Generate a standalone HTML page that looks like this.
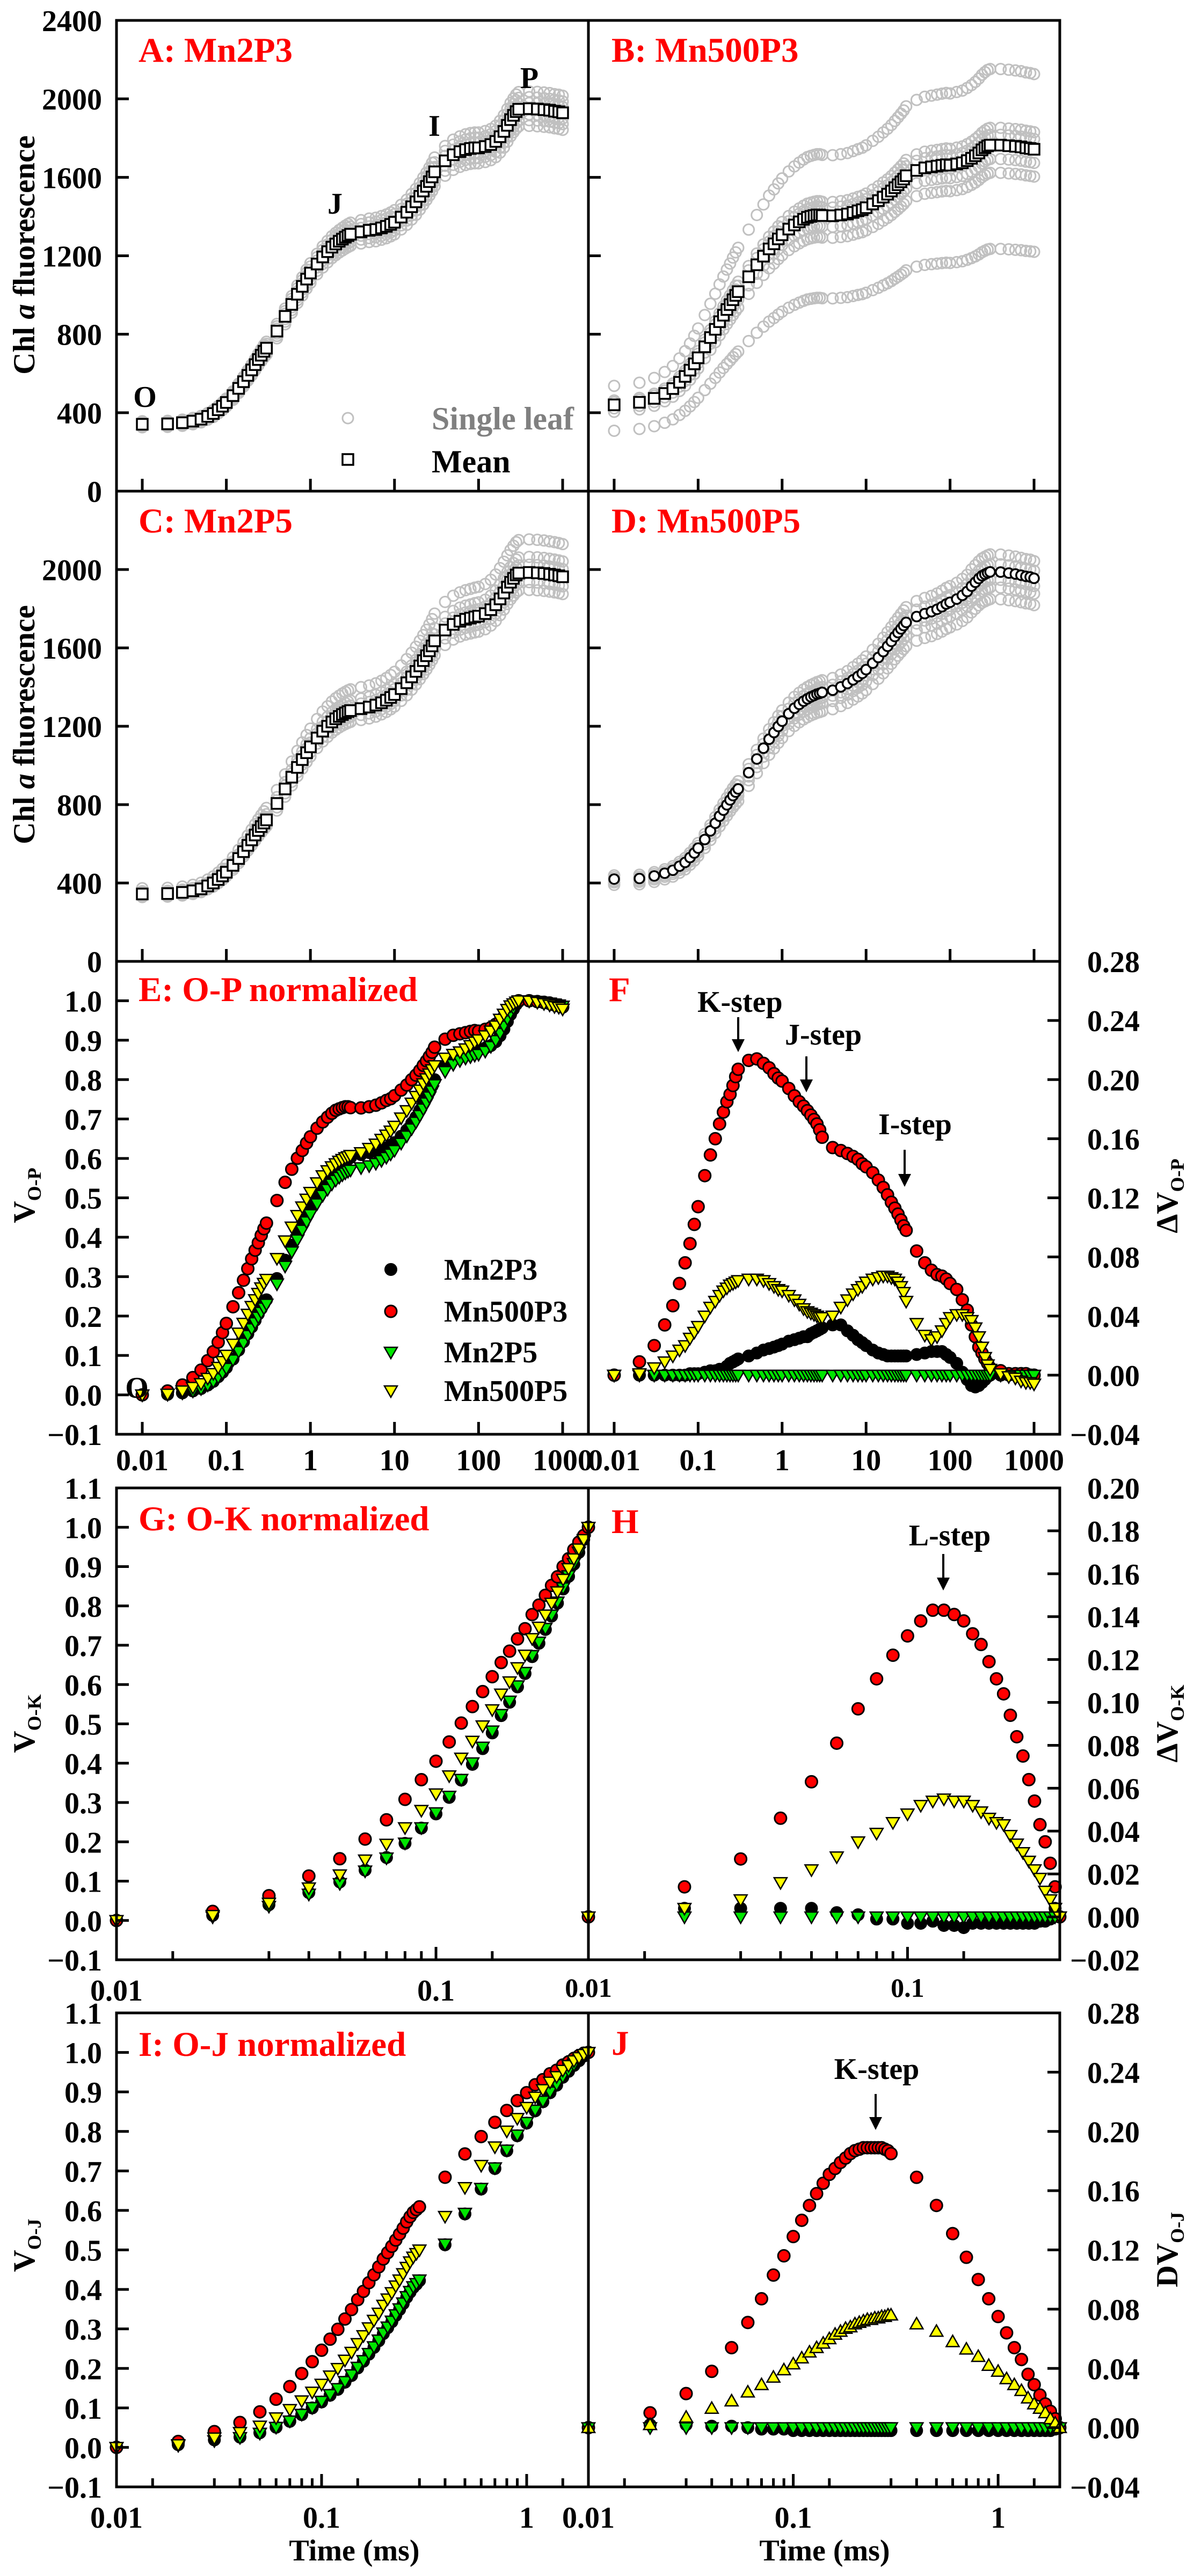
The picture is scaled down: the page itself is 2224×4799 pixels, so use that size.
<!DOCTYPE html>
<html><head><meta charset="utf-8">
<style>
body{margin:0;background:#fff}
svg{display:block}
text{font-family:"Liberation Serif","DejaVu Serif",serif;font-weight:bold}
</style></head>
<body>
<svg id="fig" width="2224" height="4799" viewBox="0 0 2224 4799" xmlns="http://www.w3.org/2000/svg"></svg>
<script>
// ---------- DATA ----------
const T=[0.01,0.02,0.03,0.04,0.05,0.06,0.07,0.08,0.09,0.1,0.12,0.14,0.16,0.18,0.2,0.22,0.24,0.26,0.28,0.3,
0.4,0.5,0.6,0.7,0.8,0.9,1,1.2,1.4,1.6,1.8,2,2.2,2.4,2.6,2.8,3,
4,5,6,7,8,9,10,12,14,16,18,20,22,24,26,28,30,
40,50,60,70,80,90,100,120,140,160,180,200,220,240,260,280,300,
400,500,600,700,800,900,1000];
const meanA=[341,343,349,357,367,381,396,415,433,452,487,524,558,590,618,645,671,693,713,729,
816,891,952,1004,1044,1081,1112,1158,1194,1221,1244,1260,1274,1285,1295,1303,1310,
1322,1330,1334,1342,1350,1360,1371,1397,1422,1450,1475,1503,1530,1554,1578,1602,1628,
1684,1715,1731,1741,1747,1750,1750,1757,1767,1783,1807,1834,1865,1894,1916,1935,1947,
1950,1948,1945,1942,1937,1934,1929];
const meanB=[440,453,473,498,523,555,585,617,649,680,736,783,825,864,897,926,951,976,998,1017,
1093,1154,1198,1235,1261,1286,1307,1336,1357,1373,1386,1396,1401,1405,1408,1408,1405,
1404,1408,1413,1421,1429,1435,1445,1464,1481,1499,1514,1530,1547,1562,1577,1591,1608,
1635,1648,1653,1657,1661,1664,1662,1668,1674,1685,1697,1710,1724,1740,1751,1760,1764,
1764,1761,1758,1755,1750,1747,1743];
const meanC=[344,346,352,360,370,385,400,418,436,455,490,525,560,592,620,645,668,688,706,722,
806,880,940,990,1030,1065,1095,1140,1175,1200,1222,1238,1250,1260,1268,1275,1280,
1290,1298,1308,1320,1333,1347,1362,1392,1422,1452,1480,1508,1535,1560,1585,1610,1636,
1691,1720,1736,1746,1752,1758,1762,1775,1795,1820,1850,1880,1910,1935,1955,1972,1982,
1985,1983,1980,1976,1972,1968,1963];
const meanD=[420,423,436,450,465,486,505,530,553,578,622,666,705,741,772,799,824,846,864,880,
963,1033,1088,1134,1168,1199,1226,1264,1292,1312,1328,1340,1350,1357,1364,1368,1373,
1384,1401,1418,1437,1454,1470,1489,1522,1551,1581,1608,1633,1658,1678,1697,1714,1730,
1760,1775,1785,1797,1810,1824,1833,1849,1868,1888,1915,1935,1954,1968,1976,1983,1988,
1987,1982,1977,1971,1965,1962,1955];
const leafA=[0.955,0.97,0.985,1.015,1.03,1.045];
const leafB=[0.70,0.92,0.96,1.03,1.05,1.22];
const leafC=[0.955,0.975,1.02,1.04,1.085];
const leafD=[0.93,0.96,0.98,1.02,1.045];
const dvBlack=[0,0,0,0,0,0,0,.001,.001,.001,.002,.003,.003,.004,.004,.006,.008,.009,.010,.011,
.013,.015,.017,.018,.019,.020,.021,.023,.024,.025,.026,.026,.028,.029,.030,.031,.032,
.034,.034,.030,.027,.024,.022,.020,.017,.015,.014,.013,.013,.013,.013,.013,.013,.013,
.014,.015,.016,.016,.016,.014,.012,.008,.002,-.003,-.007,-.008,-.007,-.005,-.003,-.001,0,
0,0,0,0,0,0,0];
const dvRed=[0,.009,.020,.034,.047,.062,.076,.089,.102,.114,.135,.149,.160,.170,.178,.185,.190,.196,.202,.207,
.213,.214,.211,.208,.204,.201,.199,.194,.189,.185,.182,.179,.176,.173,.170,.166,.161,
.154,.152,.150,.148,.146,.143,.141,.137,.132,.127,.122,.117,.113,.109,.105,.101,.098,
.084,.076,.071,.068,.067,.065,.062,.058,.051,.044,.034,.026,.019,.015,.011,.008,.005,
.003,.001,.001,.001,.001,0,0];
const dvGreen=[0,0,0,0,0,0,0,0,0,0,0,0,0,0,0,0,0,0,0,0,
0,0,0,0,0,0,0,0,0,0,0,0,0,0,0,0,0,
0,0,0,0,0,0,0,0,0,0,0,0,0,0,0,0,0,
0,0,0,0,0,0,0,0,0,0,0,0,0,0,0,0,0,
0,0,0,0,0,0,0];
const dvYellow=[0,.001,.005,.009,.013,.017,.020,.025,.029,.033,.040,.046,.050,.054,.057,.059,.061,.062,.063,.064,
.065,.065,.064,.062,.060,.058,.057,.054,.051,.048,.045,.043,.042,.041,.040,.039,.039,
.040,.046,.051,.055,.058,.060,.063,.065,.066,.067,.067,.066,.065,.063,.060,.056,.050,
.035,.027,.024,.026,.030,.035,.039,.041,.041,.039,.037,.032,.026,.019,.012,.007,.004,
.001,-.001,-.002,-.004,-.005,-.005,-.006];
// O-K panels
const tK=[0.01,0.02,0.03,0.04,0.05,0.06,0.07,0.08,0.09,0.1,0.11,0.12,0.13,0.14,0.15,0.16,0.17,0.18,0.19,0.2,0.21,0.22,0.23,0.24,0.25,0.26,0.27,0.28,0.29,0.3];
const gGreen=[0,.009,.036,.067,.094,.126,.159,.197,.236,.274,.316,.359,.401,.441,.482,.524,.558,.597,.631,.674,.708,.743,.777,.810,.846,.877,.908,.937,.965,1.0];
const hRed=[0,.014,.027,.046,.063,.081,.097,.111,.122,.131,.138,.143,.143,.141,.138,.132,.127,.119,.111,.104,.094,.084,.075,.064,.054,.043,.035,.025,.014,0];
const hYellow=[0,.004,.008,.016,.022,.028,.035,.039,.044,.048,.052,.054,.055,.054,.054,.052,.049,.046,.044,.043,.038,.034,.030,.026,.022,.018,.012,.008,.004,0];
const hBlack=[0,.004,.004,.004,.004,.002,.001,-.001,-.001,-.003,-.003,-.002,-.004,-.004,-.005,-.003,-.003,-.003,-.003,-.003,-.003,-.003,-.003,-.003,-.003,-.002,-.002,-.001,.004,0];
const hGreen=[0,0,0,0,0,0,0,0,0,0,0,0,0,0,0,0,0,0,0,0,0,0,0,0,0,0,0,0,0,0];
// O-J panels
const tJ=[0.01,0.02,0.03,0.04,0.05,0.06,0.07,0.08,0.09,0.1,0.11,0.12,0.13,0.14,0.15,0.16,0.17,0.18,0.19,0.2,0.21,0.22,0.23,0.24,0.25,0.26,0.27,0.28,0.29,0.3,
0.4,0.5,0.6,0.7,0.8,0.9,1.0,1.1,1.2,1.3,1.4,1.5,1.6,1.7,1.8,1.9,2.0];
const iGreen=[0,.005,.017,.025,.036,.051,.067,.084,.101,.117,.134,.149,.167,.184,.203,.220,.238,.255,.272,.290,.305,.320,.336,.351,.366,.382,.395,.407,.415,.424,
.515,.593,.656,.708,.753,.791,.823,.854,.877,.900,.919,.939,.954,.969,.981,.992,1.0];
const jRed=[0,.010,.023,.038,.054,.071,.087,.103,.116,.129,.140,.150,.158,.165,.171,.175,.179,.182,.185,.187,.188,.189,.189,.189,.189,.189,.189,.188,.187,.185,
.169,.150,.131,.115,.100,.087,.075,.064,.054,.046,.036,.029,.022,.016,.011,.006,0];
const jYellow=[0,.002,.007,.013,.018,.024,.029,.034,.039,.043,.047,.051,.054,.057,.060,.063,.065,.067,.068,.070,.071,.072,.073,.073,.074,.074,.075,.075,.076,.076,
.070,.065,.058,.053,.048,.042,.038,.033,.029,.025,.020,.016,.013,.010,.006,.003,0];
const jBlack=[0,.002,.002,.001,.001,0,-.001,-.001,-.001,-.002,-.002,-.002,-.002,-.002,-.002,-.002,-.002,-.002,-.002,-.002,-.002,-.002,-.002,-.002,-.002,-.002,-.002,-.002,-.002,-.002,
-.002,-.002,-.002,-.002,-.002,-.002,-.002,-.002,-.002,-.002,-.002,-.002,-.002,-.002,-.002,-.001,0];
const jGreen=[0,0,0,0,0,0,0,0,0,0,0,0,0,0,0,0,0,0,0,0,0,0,0,0,0,0,0,0,0,0,
0,0,0,0,0,0,0,0,0,0,0,0,0,0,0,0,0];

// ---------- HELPERS ----------
const NS="http://www.w3.org/2000/svg";
const svg=document.getElementById('fig');
function mk(tag,attrs,name,parent){
  const el=document.createElementNS(NS,tag);
  for(const k in attrs) el.setAttribute(k,attrs[k]);
  
  
  (parent||svg).appendChild(el);
  return el;
}
function text(x,y,s,o,name){
  o=o||{};
  const el=mk('text',{x:x,y:y,'font-size':o.size||56,'text-anchor':o.anchor||'start',fill:o.fill||'#000'},name);
  if(o.italic) el.setAttribute('font-style','italic');
  el.textContent=s;
  return el;
}
function subTitle(x,y,main,sub,name){
  const el=mk('text',{transform:'translate('+x+','+y+') rotate(-90)','text-anchor':'middle','font-size':57},name);
  const a=mk('tspan',{},name+'-main',el); a.textContent=main;
  const b=mk('tspan',{'font-size':36,dy:12},name+'-subscript',el); b.textContent=sub;
  return el;
}
const Lx=(p0,p1,lo,hi)=>t=>p0+(Math.log10(t)-Math.log10(lo))/(Math.log10(hi)-Math.log10(lo))*(p1-p0);
const Ly=(p0,p1,lo,hi)=>v=>p1-(v-lo)/(hi-lo)*(p1-p0);
const L0=Math.pow(10,-2.3065), L1=Math.pow(10,3.3065);
const xL=Lx(217,1096,L0,L1), xR=Lx(1096,1974,L0,L1);
const xGL=Lx(217,1096,0.01,0.3), xGR=Lx(1096,1974,0.01,0.3);
const xIL=Lx(217,1096,0.01,2), xIR=Lx(1096,1974,0.01,2);
const yA=Ly(38,915,0,2400), yC=Ly(915,1791,0,2400);
const yE=Ly(1791,2672,-0.1,1.1), yF=Ly(1791,2672,-0.04,0.28);
const yG=Ly(2772,3651,-0.1,1.1), yH=Ly(2772,3651,-0.02,0.20);
const yI=Ly(3750,4633,-0.1,1.1), yJ=Ly(3750,4633,-0.04,0.28);

function marker(kind,cx,cy,name){
  if(kind==='gray') return mk('circle',{cx:cx,cy:cy,r:10,fill:'none',stroke:'#c0c0c0','stroke-width':3},name);
  if(kind==='sq') return mk('rect',{x:cx-10,y:cy-10,width:20,height:20,fill:'#fff',stroke:'#000','stroke-width':3.5},name);
  if(kind==='oc') return mk('circle',{cx:cx,cy:cy,r:9,fill:'#fff',stroke:'#000','stroke-width':3.5},name);
  if(kind==='red') return mk('circle',{cx:cx,cy:cy,r:11,fill:'#ff0000',stroke:'#000','stroke-width':3},name);
  if(kind==='black') return mk('circle',{cx:cx,cy:cy,r:11,fill:'#000',stroke:'#000','stroke-width':2},name);
  const up=(kind==='yellowUp');
  const fill=(kind==='green')?'#00e600':'#ffff00';
  const pts=up?[[cx-12,cy+9],[cx+12,cy+9],[cx,cy-12]]:[[cx-12,cy-9],[cx+12,cy-9],[cx,cy+12]];
  return mk('polygon',{points:pts.map(p=>p.join(',')).join(' '),fill:fill,stroke:'#000','stroke-width':2.5},name);
}
function series(ts,vals,xs,ys,kind,name){
  for(let i=0;i<ts.length;i++) marker(kind,xs(ts[i]),ys(vals[i]),name);
}
function norm(arr){const f0=arr[0],fm=Math.max.apply(null,arr);return arr.map(v=>(v-f0)/(fm-f0));}
function addArr(a,b){return a.map((v,i)=>v+b[i]);}

// ---------- PANELS A-D ----------
function rawPanel(mean,leaves,xs,ys,meanKind,tag){
  for(let j=0;j<leaves.length;j++){
    for(let i=0;i<T.length;i++) marker('gray',xs(T[i]),ys(mean[i]*leaves[j]),tag+'-single-leaf-point');
  }
  series(T,mean,xs,ys,meanKind,tag+'-mean-point');
}
rawPanel(meanA,leafA,xL,yA,'sq','panel-a');
rawPanel(meanB,leafB,xR,yA,'sq','panel-b');
rawPanel(meanC,leafC,xL,yC,'sq','panel-c');
rawPanel(meanD,leafD,xR,yC,'oc','panel-d');

// ---------- PANELS E/F ----------
const vA=norm(meanA), vB=norm(meanB), vC=norm(meanC), vD=norm(meanD);
series(T,vA,xL,yE,'black','e-mn2p3-point');
series(T,vB,xL,yE,'red','e-mn500p3-point');
series(T,vC,xL,yE,'green','e-mn2p5-point');
series(T,vD,xL,yE,'yellow','e-mn500p5-point');
series(T,dvBlack,xR,yF,'black','f-mn2p3-point');
series(T,dvRed,xR,yF,'red','f-mn500p3-point');
series(T,dvGreen,xR,yF,'green','f-mn2p5-point');
series(T,dvYellow,xR,yF,'yellow','f-mn500p5-point');

// ---------- PANELS G/H ----------
series(tK,addArr(gGreen,hBlack),xGL,yG,'black','g-mn2p3-point');
series(tK,addArr(gGreen,hRed),xGL,yG,'red','g-mn500p3-point');
series(tK,gGreen,xGL,yG,'green','g-mn2p5-point');
series(tK,addArr(gGreen,hYellow),xGL,yG,'yellow','g-mn500p5-point');
series(tK,hBlack,xGR,yH,'black','h-mn2p3-point');
series(tK,hRed,xGR,yH,'red','h-mn500p3-point');
series(tK,hGreen,xGR,yH,'green','h-mn2p5-point');
series(tK,hYellow,xGR,yH,'yellow','h-mn500p5-point');

// ---------- PANELS I/J ----------
series(tJ,addArr(iGreen,jBlack),xIL,yI,'black','i-mn2p3-point');
series(tJ,addArr(iGreen,jRed),xIL,yI,'red','i-mn500p3-point');
series(tJ,iGreen,xIL,yI,'green','i-mn2p5-point');
series(tJ,addArr(iGreen,jYellow),xIL,yI,'yellow','i-mn500p5-point');
series(tJ,jBlack,xIR,yJ,'black','j-mn2p3-point');
series(tJ,jRed,xIR,yJ,'red','j-mn500p3-point');
series(tJ,jGreen,xIR,yJ,'green','j-mn2p5-point');
series(tJ,jYellow,xIR,yJ,'yellowUp','j-mn500p5-point');

// ---------- FRAMES & TICKS ----------
const rows=[[38,915],[915,1791],[1791,2672],[2772,3651],[3750,4633]];
const rowNames=['ab','cd','ef','gh','ij'];
rows.forEach((r,k)=>{
  mk('rect',{x:217,y:r[0],width:879,height:r[1]-r[0],fill:'none',stroke:'#000','stroke-width':5},'panel-frame-left-'+rowNames[k]);
  mk('rect',{x:1096,y:r[0],width:878,height:r[1]-r[0],fill:'none',stroke:'#000','stroke-width':5},'panel-frame-right-'+rowNames[k]);
});
function vtick(x,yb,len,name){mk('line',{x1:x,y1:yb,x2:x,y2:yb-len,stroke:'#000','stroke-width':5},name);}
function htick(xa,y,len,name){mk('line',{x1:xa,y1:y,x2:xa+len,y2:y,stroke:'#000','stroke-width':5},name);}
const decades=[0.01,0.1,1,10,100,1000];
[915,1791,2672].forEach(yb=>{decades.forEach(t=>{vtick(xL(t),yb,23,'x-tick');vtick(xR(t),yb,23,'x-tick');});});
const kMajor=[0.01,0.1], kMinor=[0.015,0.03,0.04,0.05,0.06,0.07,0.08,0.09,0.15];
kMajor.forEach(t=>{vtick(xGL(t),3651,24,'x-tick-major');vtick(xGR(t),3651,24,'x-tick-major');});
kMinor.forEach(t=>{vtick(xGL(t),3651,16,'x-tick-minor');vtick(xGR(t),3651,16,'x-tick-minor');});
const jMajor=[0.01,0.1,1], jMinor=[0.015,0.03,0.04,0.05,0.06,0.07,0.08,0.09,0.15,0.3,0.4,0.5,0.6,0.7,0.8,0.9,1.5];
jMajor.forEach(t=>{vtick(xIL(t),4633,24,'x-tick-major');vtick(xIR(t),4633,24,'x-tick-major');});
jMinor.forEach(t=>{vtick(xIL(t),4633,16,'x-tick-minor');vtick(xIR(t),4633,16,'x-tick-minor');});
for(let v=400;v<=2000;v+=400){htick(217,yA(v),23,'y-tick');htick(1096,yA(v),23,'y-tick');htick(217,yC(v),23,'y-tick');htick(1096,yC(v),23,'y-tick');}
for(let k=1;k<=11;k++){const v=-0.1+k*0.1;htick(217,yE(v),23,'y-tick');htick(217,yG(v),23,'y-tick');htick(217,yI(v),23,'y-tick');}
for(let k=1;k<8;k++){const v=-0.04+k*0.04;htick(1974,yF(v),-23,'y-tick-right');htick(1974,yJ(v),-23,'y-tick-right');}
for(let k=1;k<11;k++){const v=-0.02+k*0.02;htick(1974,yH(v),-23,'y-tick-right');}

// ---------- TICK LABELS ----------
for(let v=0;v<=2400;v+=400) text(190,yA(v)+20,String(v),{anchor:'end'},'y-tick-label');
for(let v=0;v<=2000;v+=400) text(190,yC(v)+20,String(v),{anchor:'end'},'y-tick-label');
const fmt=(v,d)=>{const s=Math.abs(v).toFixed(d);return (v<-1e-9?'\u2212':'')+s;};
for(let k=0;k<=12;k++){
  const v=-0.1+k*0.1;
  if(k<12) text(190,yE(v)+20,fmt(v,1),{anchor:'end'},'y-tick-label');
  text(190,yG(v)+20,fmt(v,1),{anchor:'end'},'y-tick-label');
  text(190,yI(v)+20,fmt(v,1),{anchor:'end'},'y-tick-label');
}
for(let k=0;k<=8;k++){const v=-0.04+k*0.04;text(2123,yF(v)+20,fmt(v,2),{anchor:'end'},'right-tick-label');text(2123,yJ(v)+20,fmt(v,2),{anchor:'end'},'right-tick-label');}
for(let k=0;k<=11;k++){const v=-0.02+k*0.02;text(2123,yH(v)+20,fmt(v,2),{anchor:'end'},'right-tick-label');}
const decLabels=['0.01','0.1','1','10','100','1000'];
decades.forEach((t,i)=>{text(xL(t),2739,decLabels[i],{anchor:'middle'},'x-tick-label');text(xR(t),2739,decLabels[i],{anchor:'middle'},'x-tick-label');});
[[0.01,'0.01'],[0.1,'0.1']].forEach(p=>{text(xGL(p[0]),3727,p[1],{anchor:'middle'},'x-tick-label');text(xGR(p[0]),3720,p[1],{anchor:'middle',size:50},'x-tick-label');});
[[0.01,'0.01'],[0.1,'0.1'],[1,'1']].forEach(p=>{text(xIL(p[0]),4709,p[1],{anchor:'middle'},'x-tick-label');text(xIR(p[0]),4709,p[1],{anchor:'middle'},'x-tick-label');});
text(660,4770,'Time (ms)',{anchor:'middle'},'x-axis-title-left');
text(1536,4770,'Time (ms)',{anchor:'middle'},'x-axis-title-right');

// ---------- AXIS TITLES ----------
function chlTitle(y,name){
  const el=mk('text',{transform:'translate(64,'+y+') rotate(-90)','text-anchor':'middle','font-size':57},name);
  const a=mk('tspan',{},name+'-chl',el); a.textContent='Chl ';
  const b=mk('tspan',{'font-style':'italic'},name+'-a',el); b.textContent='a';
  const c=mk('tspan',{},name+'-fluorescence',el); c.textContent=' fluorescence';
}
chlTitle(475,'y-axis-title-a');
chlTitle(1350,'y-axis-title-c');
subTitle(64,2227,'V','O-P','y-axis-title-e');
subTitle(64,3211,'V','O-K','y-axis-title-g');
subTitle(64,4183,'V','O-J','y-axis-title-i');
subTitle(2193,2228,'\u0394V','O-P','y-axis-title-f');
subTitle(2193,3211,'\u0394V','O-K','y-axis-title-h');
subTitle(2193,4191,'DV','O-J','y-axis-title-j');

// ---------- PANEL TITLES ----------
const red='#ff0000';
text(258,115,'A: Mn2P3',{size:65,fill:red},'panel-title-a');
text(1139,115,'B: Mn500P3',{size:65,fill:red},'panel-title-b');
text(258,992,'C: Mn2P5',{size:65,fill:red},'panel-title-c');
text(1139,992,'D: Mn500P5',{size:65,fill:red},'panel-title-d');
text(258,1865,'E: O-P normalized',{size:65,fill:red},'panel-title-e');
text(1134,1865,'F',{size:65,fill:red},'panel-title-f');
text(258,2851,'G: O-K normalized',{size:65,fill:red},'panel-title-g');
text(1139,2856,'H',{size:65,fill:red},'panel-title-h');
text(258,3830,'I: O-J normalized',{size:65,fill:red},'panel-title-i');
text(1139,3828,'J',{size:65,fill:red},'panel-title-j');

// OJIP labels
text(270,758,'O',{anchor:'middle'},'o-point-label');
text(624,398,'J',{anchor:'middle'},'j-point-label');
text(809,253,'I',{anchor:'middle'},'i-point-label');
text(986,164,'P',{anchor:'middle'},'p-point-label');
text(255,2604,'O',{anchor:'middle'},'o-point-label-e');

// Legend A
marker('gray',648,779,'legend-single-leaf-marker');
text(804,800,'Single leaf',{fill:'#808080',size:60},'legend-single-leaf');
marker('sq',648,856,'legend-mean-marker');
text(804,880,'Mean',{size:60},'legend-mean');

// Legend E
const legK=['black','red','green','yellow'], legN=['Mn2P3','Mn500P3','Mn2P5','Mn500P5'], legY=[2365,2443,2519,2591];
for(let i=0;i<4;i++){
  marker(legK[i],728,legY[i],'legend-marker-'+legN[i].toLowerCase());
  text(827,legY[i]+19,legN[i],{},'legend-entry-'+legN[i].toLowerCase());
}

// Annotations
function arrow(x,y1,y2,name){
  mk('line',{x1:x,y1:y1,x2:x,y2:y2-20,stroke:'#000','stroke-width':4},name);
  mk('polygon',{points:(x-12)+','+(y2-24)+' '+(x+12)+','+(y2-24)+' '+x+','+y2,fill:'#000'},name+'-head');
}
text(1299,1885,'K-step',{},'k-step-label-f'); arrow(1375,1895,1960,'k-step-arrow-f');
text(1462,1946,'J-step',{},'j-step-label'); arrow(1502,1968,2035,'j-step-arrow');
text(1636,2113,'I-step',{},'i-step-label'); arrow(1685,2142,2211,'i-step-arrow');
text(1769,2879,'L-step',{anchor:'middle'},'l-step-label'); arrow(1757,2895,2963,'l-step-arrow');
text(1633,3873,'K-step',{anchor:'middle'},'k-step-label-j'); arrow(1631,3901,3968,'k-step-arrow-j');
</script>
</body></html>
